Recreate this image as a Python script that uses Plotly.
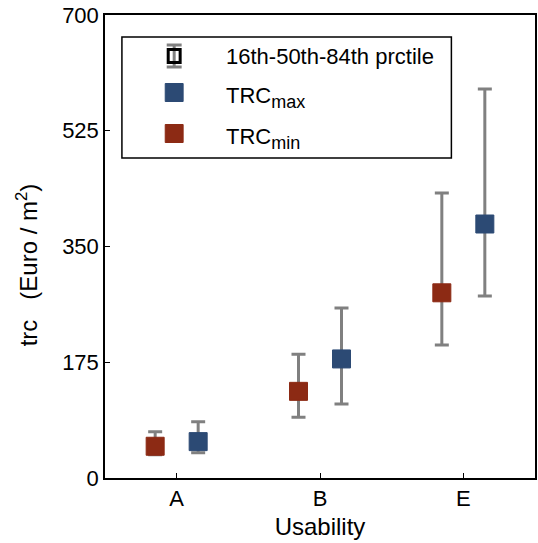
import plotly.graph_objects as go

categories = ["A", "B", "E"]
trc_min_median = [48, 131, 280]
trc_min_p16 = [35, 92, 201]
trc_min_p84 = [70, 187, 431]
trc_max_median = [55, 180, 384]
trc_max_p16 = [38, 112, 275]
trc_max_p84 = [85, 257, 588]
y_ticks = [0, 175, 350, 525, 700]
legend_labels = ["16th-50th-84th prctile",
                 'TRC<sub><span style="font-size:18px">max</span></sub>',
                 'TRC<sub><span style="font-size:18px">min</span></sub>']

pos = [1, 2, 3]
off = 0.15
gray = "#808080"
blue = "#2C4A74"
red = "#8C2A14"

# plot area geometry in pixels (for legend placement)
L, R, T, B = 105, 537, 15, 478
def px(xp):
    return (xp - L) / (R - L)
def py(yp):
    return (B - yp) / (B - T)

fig = go.Figure()

def add_series(med, lo, hi, xs, color, name):
    fig.add_trace(go.Scatter(
        x=xs, y=med, mode="markers",
        marker=dict(symbol="square", size=18, color=color, line=dict(color=color, width=1)),
        error_y=dict(type="data", symmetric=False,
                     array=[h - m for h, m in zip(hi, med)],
                     arrayminus=[m - l for m, l in zip(med, lo)],
                     color=gray, thickness=3, width=7),
        name=name, showlegend=False))

add_series(trc_min_median, trc_min_p16, trc_min_p84, [p - off for p in pos], red, legend_labels[2])
add_series(trc_max_median, trc_max_p16, trc_max_p84, [p + off for p in pos], blue, legend_labels[1])

shapes = []
# legend box
shapes.append(dict(type="rect", xref="paper", yref="paper",
                   x0=px(122), x1=px(453), y0=py(158), y1=py(37),
                   line=dict(color="black", width=1.5), fillcolor="white", layer="above"))
# legend icon 1: error bar with open square
cx = 174.5
shapes.append(dict(type="line", xref="paper", yref="paper", x0=px(cx), x1=px(cx), y0=py(45), y1=py(67),
                   line=dict(color=gray, width=3), layer="above"))
for yy in (45, 67):
    shapes.append(dict(type="line", xref="paper", yref="paper", x0=px(167), x1=px(182), y0=py(yy), y1=py(yy),
                       line=dict(color=gray, width=3), layer="above"))
shapes.append(dict(type="rect", xref="paper", yref="paper", x0=px(168.5), x1=px(180.5), y0=py(62.5), y1=py(49.5),
                   line=dict(color="black", width=3), fillcolor="rgba(0,0,0,0)", layer="above"))
# legend icons 2,3: squares
for cy, col in ((92.5, blue), (133.5, red)):
    shapes.append(dict(type="rect", xref="paper", yref="paper",
                       x0=px(cx - 9), x1=px(cx + 9), y0=py(cy + 9), y1=py(cy - 9),
                       line=dict(color=col, width=1), fillcolor=col, layer="above"))

annotations = []
for lab, yc in zip(legend_labels, (57, 97, 138)):
    annotations.append(dict(xref="paper", yref="paper", x=px(225), y=py(yc), text=lab,
                            showarrow=False, xanchor="left", yanchor="middle",
                            font=dict(size=22, color="black")))
# y-axis title
annotations.append(dict(xref="paper", yref="paper", x=px(27), y=py(265),
                        text="trc   (Euro / m<sup>2</sup>)", textangle=-90, showarrow=False,
                        xanchor="center", yanchor="middle", font=dict(size=24, color="black")))

fig.update_layout(
    width=538, height=543,
    margin=dict(l=L, r=538 - R, t=T, b=543 - B),
    paper_bgcolor="white", plot_bgcolor="white",
    font=dict(family="Liberation Sans, Arial", size=22, color="black"),
    showlegend=False,
    shapes=shapes, annotations=annotations,
    xaxis=dict(range=[0.5, 3.5], tickvals=pos, ticktext=categories,
               showline=True, linecolor="black", linewidth=1.5, mirror=True,
               ticks="inside", ticklen=5, tickcolor="black", showgrid=False, zeroline=False,
               title=dict(text="Usability", font=dict(size=24), standoff=8)),
    yaxis=dict(range=[0, 700], tickvals=y_ticks,
               showline=True, linecolor="black", linewidth=1.5, mirror=True,
               ticks="inside", ticklen=5, tickcolor="black", showgrid=False, zeroline=False),
)

fig.write_html("out.html")
